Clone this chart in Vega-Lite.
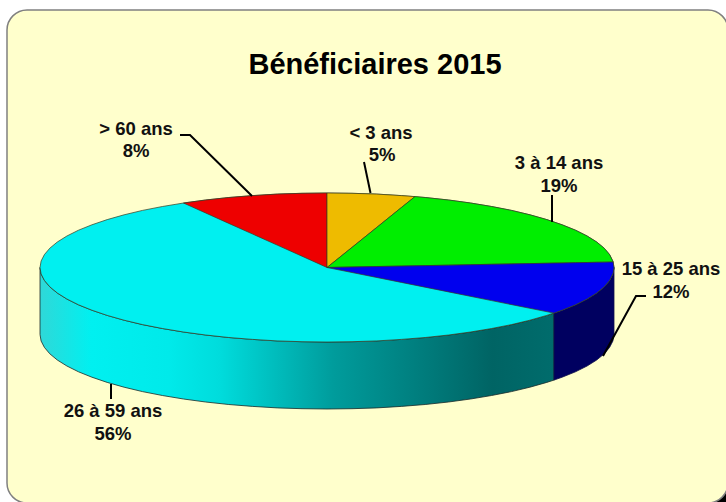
{"$schema":"https://vega.github.io/schema/vega-lite/v6.json","width":726,"height":502,"padding":0,"autosize":"none","background":"white","config":{"view":{"stroke":null}},
"encoding":{"x":{"field":"x","type":"quantitative","axis":null,"scale":{"domain":[0,726],"nice":false,"zero":false}},"y":{"field":"y","type":"quantitative","axis":null,"scale":{"domain":[502,0],"nice":false,"zero":false}}},
"layer":[
{"data":{"values":[{"x":705,"x2":726,"y":482,"y2":502}]},"mark":{"type":"rect","fill":"#000000"},"encoding":{"x2":{"field":"x2"},"y2":{"field":"y2"}}},
{"data":{"values":[{"x":7,"x2":728,"y":10,"y2":503}]},"mark":{"type":"rect","fill":"#FFFFCC","stroke":"#808080","strokeWidth":1.5,"cornerRadius":20},"encoding":{"x2":{"field":"x2"},"y2":{"field":"y2"}}},
{"data":{"values":[{"x":40,"y":267.5,"y2":334.5},{"x":41.1,"y":274,"y2":341},{"x":44.4,"y":280.4,"y2":347.4},{"x":49.8,"y":286.8,"y2":353.8},{"x":57.3,"y":293,"y2":360},{"x":66.9,"y":299,"y2":366},{"x":78.5,"y":304.8,"y2":371.8},{"x":91.9,"y":310.2,"y2":377.2},{"x":107.2,"y":315.4,"y2":382.4},{"x":124.1,"y":320.2,"y2":387.2},{"x":142.5,"y":324.6,"y2":391.6},{"x":162.4,"y":328.5,"y2":395.5},{"x":183.5,"y":332,"y2":399},{"x":205.7,"y":335,"y2":402},{"x":228.8,"y":337.5,"y2":404.5},{"x":252.7,"y":339.4,"y2":406.4},{"x":277.2,"y":340.9,"y2":407.9},{"x":302,"y":341.7,"y2":408.7},{"x":327,"y":342,"y2":409},{"x":352,"y":341.7,"y2":408.7},{"x":376.8,"y":340.9,"y2":407.9},{"x":401.3,"y":339.4,"y2":406.4},{"x":425.2,"y":337.5,"y2":404.5},{"x":448.5,"y":335,"y2":402},{"x":470.5,"y":332,"y2":399},{"x":491.6,"y":328.5,"y2":395.5},{"x":511.5,"y":324.6,"y2":391.6},{"x":529.9,"y":320.2,"y2":387.2},{"x":546.8,"y":315.4,"y2":382.4},{"x":554,"y":313.1,"y2":380.1}]},
"mark":{"type":"area","stroke":"#1a2a2a","strokeWidth":0.8,"fill":{"gradient":"linear","x1":0,"x2":1,"y1":0,"y2":0,"stops":[{"offset":0,"color":"#2FD8D8"},{"offset":0.1,"color":"#00F0F0"},{"offset":0.25,"color":"#00EAEA"},{"offset":0.35,"color":"#00DCDC"},{"offset":0.57,"color":"#009C9C"},{"offset":0.88,"color":"#006464"},{"offset":1,"color":"#006C6C"}]}},"encoding":{"y2":{"field":"y2"}}},
{"data":{"values":[{"x":554,"y":313.1,"y2":380.1},{"x":562.1,"y":310.2,"y2":377.2},{"x":575.5,"y":304.8,"y2":371.8},{"x":587.1,"y":299,"y2":366},{"x":596.7,"y":293,"y2":360},{"x":604.2,"y":286.8,"y2":353.8},{"x":609.6,"y":280.4,"y2":347.4},{"x":612.9,"y":274,"y2":341},{"x":614,"y":267.5,"y2":334.5}]},
"mark":{"type":"area","fill":"#000060","stroke":"#10104a","strokeWidth":0.8},"encoding":{"y2":{"field":"y2"}}},
{"data":{"values":[
{"s":"26 à 59 ans","x":40,"y":267.5,"y2":267.5},{"s":"26 à 59 ans","x":41.1,"y":261,"y2":274},{"s":"26 à 59 ans","x":44.4,"y":254.6,"y2":280.4},{"s":"26 à 59 ans","x":49.8,"y":248.2,"y2":286.8},{"s":"26 à 59 ans","x":57.3,"y":242,"y2":293},{"s":"26 à 59 ans","x":66.9,"y":236,"y2":299},{"s":"26 à 59 ans","x":78.5,"y":230.2,"y2":304.8},{"s":"26 à 59 ans","x":91.9,"y":224.8,"y2":310.2},{"s":"26 à 59 ans","x":107.2,"y":219.6,"y2":315.4},{"s":"26 à 59 ans","x":124.1,"y":214.8,"y2":320.2},{"s":"26 à 59 ans","x":142.5,"y":210.4,"y2":324.6},{"s":"26 à 59 ans","x":162.4,"y":206.5,"y2":328.5},{"s":"26 à 59 ans","x":183.5,"y":203,"y2":332},{"s":"26 à 59 ans","x":205.7,"y":200,"y2":335},{"s":"26 à 59 ans","x":228.8,"y":197.5,"y2":337.5},{"s":"26 à 59 ans","x":252.7,"y":195.6,"y2":339.4},{"s":"26 à 59 ans","x":277.2,"y":194.1,"y2":340.9},{"s":"26 à 59 ans","x":302,"y":193.3,"y2":341.7},{"s":"26 à 59 ans","x":327,"y":193,"y2":342},{"s":"26 à 59 ans","x":352,"y":193.3,"y2":341.7},{"s":"26 à 59 ans","x":376.8,"y":194.1,"y2":340.9},{"s":"26 à 59 ans","x":401.3,"y":195.6,"y2":339.4},{"s":"26 à 59 ans","x":425.2,"y":197.5,"y2":337.5},{"s":"26 à 59 ans","x":448.5,"y":200,"y2":335},{"s":"26 à 59 ans","x":470.5,"y":203,"y2":332},{"s":"26 à 59 ans","x":491.6,"y":206.5,"y2":328.5},{"s":"26 à 59 ans","x":511.5,"y":210.4,"y2":324.6},{"s":"26 à 59 ans","x":529.9,"y":214.8,"y2":320.2},{"s":"26 à 59 ans","x":546.8,"y":219.6,"y2":315.4},{"s":"26 à 59 ans","x":562.1,"y":224.8,"y2":310.2},{"s":"26 à 59 ans","x":575.5,"y":230.2,"y2":304.8},{"s":"26 à 59 ans","x":587.1,"y":236,"y2":299},{"s":"26 à 59 ans","x":596.7,"y":242,"y2":293},{"s":"26 à 59 ans","x":604.2,"y":248.2,"y2":286.8},{"s":"26 à 59 ans","x":609.6,"y":254.6,"y2":280.4},{"s":"26 à 59 ans","x":612.9,"y":261,"y2":274},{"s":"26 à 59 ans","x":614,"y":267.5,"y2":267.5},
{"s":"> 60 ans","x":183.5,"y":203,"y2":203},{"s":"> 60 ans","x":205.7,"y":200,"y2":213},{"s":"> 60 ans","x":228.8,"y":197.5,"y2":223.4},{"s":"> 60 ans","x":252.7,"y":195.6,"y2":234.1},{"s":"> 60 ans","x":277.2,"y":194.1,"y2":245.1},{"s":"> 60 ans","x":302,"y":193.3,"y2":256.2},{"s":"> 60 ans","x":327,"y":193,"y2":267.5},
{"s":"< 3 ans","x":327,"y":193,"y2":267.5},{"s":"< 3 ans","x":352,"y":193.3,"y2":247.4},{"s":"< 3 ans","x":376.8,"y":194.1,"y2":227.4},{"s":"< 3 ans","x":401.3,"y":195.6,"y2":207.6},{"s":"< 3 ans","x":415,"y":196.6,"y2":196.6},
{"s":"3 à 14 ans","x":327,"y":267.5,"y2":267.5},{"s":"3 à 14 ans","x":352,"y":247.4,"y2":267},{"s":"3 à 14 ans","x":376.8,"y":227.4,"y2":266.5},{"s":"3 à 14 ans","x":401.3,"y":207.6,"y2":266.1},{"s":"3 à 14 ans","x":415,"y":196.6,"y2":265.8},{"s":"3 à 14 ans","x":425.2,"y":197.5,"y2":265.6},{"s":"3 à 14 ans","x":448.5,"y":200,"y2":265.2},{"s":"3 à 14 ans","x":470.5,"y":203,"y2":264.7},{"s":"3 à 14 ans","x":491.6,"y":206.5,"y2":264.3},{"s":"3 à 14 ans","x":511.5,"y":210.4,"y2":263.9},{"s":"3 à 14 ans","x":529.9,"y":214.8,"y2":263.6},{"s":"3 à 14 ans","x":546.8,"y":219.6,"y2":263.3},{"s":"3 à 14 ans","x":562.1,"y":224.8,"y2":263},{"s":"3 à 14 ans","x":575.5,"y":230.2,"y2":262.7},{"s":"3 à 14 ans","x":587.1,"y":236,"y2":262.5},{"s":"3 à 14 ans","x":596.7,"y":242,"y2":262.3},{"s":"3 à 14 ans","x":604.2,"y":248.2,"y2":262.2},{"s":"3 à 14 ans","x":609.6,"y":254.6,"y2":262.1},{"s":"3 à 14 ans","x":613.2,"y":262,"y2":262},
{"s":"15 à 25 ans","x":327,"y":267.5,"y2":267.5},{"s":"15 à 25 ans","x":352,"y":267,"y2":272.5},{"s":"15 à 25 ans","x":401.3,"y":266.1,"y2":282.4},{"s":"15 à 25 ans","x":448.5,"y":265.2,"y2":291.9},{"s":"15 à 25 ans","x":491.6,"y":264.3,"y2":300.6},{"s":"15 à 25 ans","x":529.9,"y":263.6,"y2":308.3},{"s":"15 à 25 ans","x":554,"y":263.1,"y2":313.1},{"s":"15 à 25 ans","x":562.1,"y":263,"y2":310.2},{"s":"15 à 25 ans","x":575.5,"y":262.7,"y2":304.8},{"s":"15 à 25 ans","x":587.1,"y":262.5,"y2":299},{"s":"15 à 25 ans","x":596.7,"y":262.3,"y2":293},{"s":"15 à 25 ans","x":604.2,"y":262.2,"y2":286.8},{"s":"15 à 25 ans","x":609.6,"y":262.1,"y2":280.4},{"s":"15 à 25 ans","x":613.2,"y":262,"y2":273},{"s":"15 à 25 ans","x":614,"y":267.5,"y2":267.5}
]},
"mark":{"type":"area","stroke":"#3a3a20","strokeWidth":0.7},"encoding":{"y2":{"field":"y2"},"color":{"field":"s","type":"nominal","legend":null,"sort":null,"scale":{"domain":["26 à 59 ans","> 60 ans","< 3 ans","3 à 14 ans","15 à 25 ans"],"range":["#00F0F0","#EE0000","#EEBB00","#00EE00","#0000EE"]}}}},
{"data":{"values":[{"l":"a","i":1,"x":180,"y":135},{"l":"a","i":2,"x":190,"y":135},{"l":"a","i":3,"x":252,"y":196},{"l":"b","i":1,"x":364,"y":162},{"l":"b","i":2,"x":370.5,"y":193},{"l":"c","i":1,"x":552,"y":195},{"l":"c","i":2,"x":552,"y":222},{"l":"d","i":1,"x":646,"y":296},{"l":"d","i":2,"x":636,"y":296},{"l":"d","i":3,"x":603,"y":356},{"l":"e","i":1,"x":111,"y":384},{"l":"e","i":2,"x":111,"y":399}]},
"mark":{"type":"line","color":"#000000","strokeWidth":2},"encoding":{"detail":{"field":"l"},"order":{"field":"i","type":"quantitative"}}},
{"data":{"values":[{"x":375,"y":65,"t":"Bénéficiaires 2015"}]},"mark":{"type":"text","font":"Liberation Sans","fontWeight":"bold","fontSize":29,"color":"#000000","align":"center","baseline":"middle"},"encoding":{"text":{"field":"t"}}},
{"data":{"values":[{"x":136,"y":129,"t":"> 60 ans"},{"x":136,"y":151,"t":"8%"},{"x":381,"y":133,"t":"< 3 ans"},{"x":382,"y":155,"t":"5%"},{"x":559,"y":163,"t":"3 à 14 ans"},{"x":559,"y":186,"t":"19%"},{"x":671,"y":269,"t":"15 à 25 ans"},{"x":671,"y":292,"t":"12%"},{"x":113,"y":411,"t":"26 à 59 ans"},{"x":113,"y":434,"t":"56%"}]},"mark":{"type":"text","font":"Liberation Sans","fontWeight":"bold","fontSize":18.5,"color":"#111111","align":"center","baseline":"middle"},"encoding":{"text":{"field":"t"}}}
]}
